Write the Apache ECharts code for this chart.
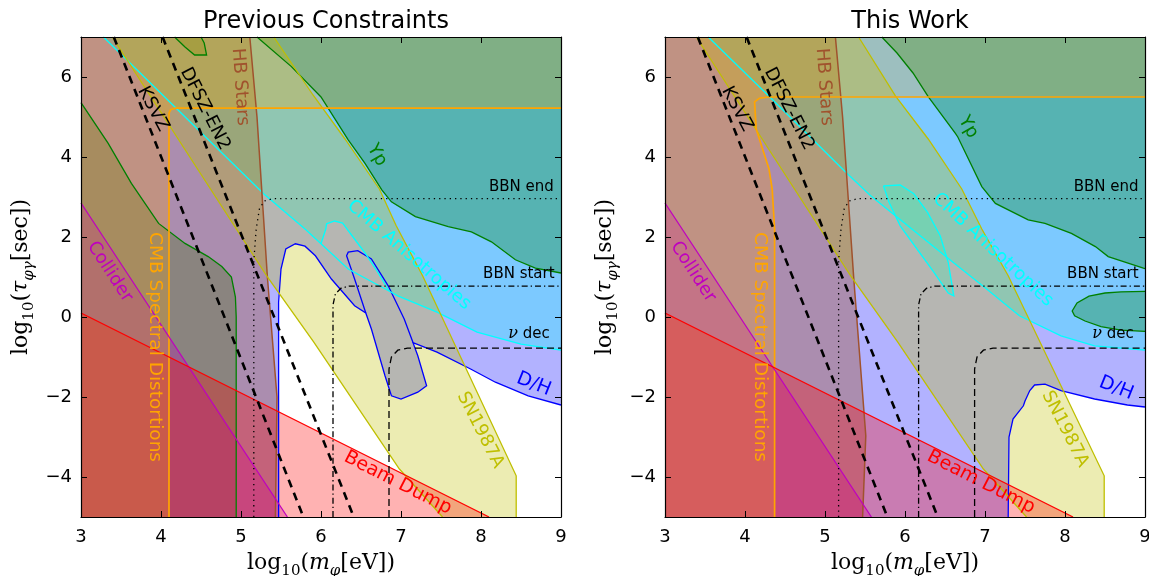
<!DOCTYPE html>
<html><head><meta charset="utf-8">
<script src="https://cdn.jsdelivr.net/npm/echarts@6/dist/echarts.min.js"></script>
<style>html,body{margin:0;padding:0;background:#fff}#c{width:1149px;height:576px}</style>
</head><body><div id="c"></div>
<script>
// ---------- tick labels / titles ----------
const xTicks = [3,4,5,6,7,8,9];
const yTicks = [-4,-2,0,2,4,6];
const panelTitles = ['Previous Constraints','This Work'];

// ---------- shared constraint boundaries (log10 m [eV], log10 tau [s]) ----------
const beamDumpLine = [[3,0.1],[8.1,-5]];
const colliderLine = [[3,2.85],[5.58,-5]];
const snLeftLine = [[3.39,7],[5.33,1.0],[5.91,-0.63],[6.98,-3.8],[7.52,-5]];
const ksvzLine = [[3.41,7],[5.78,-5]];
const dfszLine = [[4.02,7],[6.41,-5]];

// ---------- panel 1 : previous constraints ----------
const snRightLine1 = [[8.44,-5],[8.44,-3.97],[7.27,1.03],[6.94,2.28],[6.73,3.2],[6.3,4.45],[5.9,5.55],[5.41,7]];
const hbLine1 = [[5.11,7],[5.2,5],[5.33,1],[5.45,-2],[5.43,-5]];
const sdLine1 = [[4.1,-5],[4.1,5.1],[4.12,5.18],[4.18,5.22],[9,5.22]];
const cmbLine1 = [[3.28,7],[4.19,5.22],[5.29,3.07],[5.8,2.2],[6.0,1.83],[6.34,1.2],[6.85,0.65],[6.96,0.53],[7.45,0.12],[7.95,-0.38],[8.5,-0.68],[9,-0.83]];
const cmbHole1 = [[6.0,1.83],[6.06,2.2],[6.07,2.33],[6.17,2.4],[6.27,2.35],[6.4,2.0],[6.55,1.6],[6.7,1.15],[6.85,0.65]];
const dhLine1 = [[5.47,-5],[5.47,0.37],[5.5,1.2],[5.56,1.7],[5.68,1.83],[5.8,1.77],[5.93,1.53],[6.13,0.95],[6.42,0.28],[6.56,0.1],[6.63,-0.3],[6.8,-1.47],[6.88,-1.97],[7.0,-2.05],[7.21,-1.88],[7.32,-1.72],[7.21,-0.97],[7.15,-0.64],[7.45,-0.88],[7.87,-1.3],[8.18,-1.63],[8.59,-1.97],[9,-2.2]];
const dhFinger1 = [[6.56,0.1],[6.42,0.95],[6.32,1.53],[6.34,1.62],[6.46,1.66],[6.63,1.45],[6.84,0.78],[7.04,-0.05],[7.15,-0.64]];
const ypLeftLine1 = [[3,5.36],[3.34,4.34],[3.63,3.34],[3.97,2.34],[4.3,1.84],[4.59,1.51],[4.76,1.26],[4.88,1.0],[4.93,0.5],[4.94,0],[4.94,-5]];
const ypRightLine1 = [[5.2,7],[5.63,6.26],[6.0,5.5],[6.34,4.43],[6.55,3.84],[6.76,3.18],[6.88,2.88],[7.18,2.51],[7.59,2.26],[7.88,2.13],[8.13,1.88],[8.43,1.43],[8.68,1.22],[9,1.1]];
const ypBlob1 = [[4.17,7],[4.3,6.75],[4.42,6.55],[4.57,6.55],[4.54,6.85],[4.5,7]];
const bbnEnd1 = [[5.16,-5],[5.16,1.4],[5.19,2.2],[5.23,2.7],[5.29,2.9],[5.4,2.96],[9,2.96]];
const bbnStart1 = [[6.15,-5],[6.15,0.3],[6.18,0.58],[6.25,0.72],[6.35,0.77],[9,0.77]];
const nuDec1 = [[6.85,-5],[6.85,-1.3],[6.88,-1.0],[6.96,-0.83],[7.08,-0.78],[9,-0.78]];

// ---------- panel 2 : this work ----------
const snRightLine2 = [[8.49,-5],[8.49,-3.97],[7.29,1.03],[6.96,2.2],[6.71,3.2],[6.29,4.45],[5.88,5.53],[5.42,7]];
const hbLine2 = [[5.13,7],[5.22,5],[5.36,0.95],[5.51,-2.97],[5.47,-5]];
const sdLine2 = [[4.37,-5],[4.37,2.2],[4.34,3.2],[4.3,3.7],[4.14,4.7],[4.12,5.38],[4.18,5.47],[4.3,5.5],[9,5.5]];
const cmbLine2 = [[3.54,7],[4.31,5.5],[5.26,3.62],[5.57,3.03],[6.19,2.03],[6.6,1.37],[7.02,0.7],[7.43,0.03],[7.95,-0.47],[8.37,-0.72],[9,-0.83]];
const cmbIsland2 = [[5.73,3.28],[5.94,3.3],[6.11,3.08],[6.28,2.62],[6.44,2.03],[6.54,1.37],[6.61,0.53],[6.54,0.6],[6.36,1.12],[6.15,1.7],[5.94,2.28],[5.8,2.87],[5.75,3.17]];
const dhLine2 = [[7.29,-5],[7.3,-3],[7.35,-2.55],[7.48,-2.22],[7.5,-2.1],[7.56,-1.84],[7.62,-1.7],[7.75,-1.68],[7.95,-1.84],[8.37,-2.05],[8.78,-2.2],[9,-2.25]];
const ypRightLine2 = [[5.71,7],[5.9,6.6],[6.1,6.1],[6.29,5.51],[6.63,4.59],[6.66,4.5],[6.96,3.26],[7.13,2.84],[7.54,2.43],[7.75,2.34],[8.08,2.09],[8.38,1.76],[8.54,1.51],[8.98,1.22],[9,1.21]];
const ypEllipse2 = [[9,0.64],[8.7,0.63],[8.5,0.6],[8.3,0.52],[8.15,0.35],[8.09,0.15],[8.12,0.03],[8.25,-0.1],[8.45,-0.24],[8.7,-0.33],[9,-0.36]];
const bbnEnd2 = [[5.17,-5],[5.17,1.4],[5.2,2.2],[5.24,2.7],[5.3,2.9],[5.41,2.96],[9,2.96]];
const bbnStart2 = [[6.17,-5],[6.17,0.3],[6.2,0.58],[6.27,0.72],[6.37,0.77],[9,0.77]];
const nuDec2 = [[6.87,-5],[6.87,-1.3],[6.9,-1.0],[6.98,-0.83],[7.1,-0.78],[9,-0.78]];

// ---------- annotation texts ----------
const labels1 = [
  {t:'KSVZ', x:3.9, y:5.2, r:-62, c:'#000000', s:18},
  {t:'DFSZ-EN2', x:4.55, y:5.2, r:-63, c:'#000000', s:18},
  {t:'HB Stars', x:4.99, y:5.75, r:-86, c:'#a0522d', s:18},
  {t:'Collider', x:3.36, y:1.13, r:-57, c:'#bf00bf', s:18},
  {t:'CMB Spectral Distortions', x:3.92, y:-0.75, r:-90, c:'#ffa500', s:18.5},
  {t:'Yp', x:6.7, y:4.05, r:-60, c:'#008000', s:18},
  {t:'BBN end', x:8.91, y:3.24, r:0, c:'#000000', s:15, a:'right'},
  {t:'CMB Anisotropies', x:7.1, y:1.55, r:-41, c:'#00ffff', s:18},
  {t:'BBN start', x:8.92, y:1.08, r:0, c:'#000000', s:15, a:'right'},
  {t:'{i|ν} dec', x:8.86, y:-0.43, r:0, c:'#000000', s:15, a:'right'},
  {t:'D/H', x:8.66, y:-1.68, r:-22, c:'#0000ff', s:19},
  {t:'SN1987A', x:7.99, y:-2.83, r:-63, c:'#bfbf00', s:18},
  {t:'Beam Dump', x:6.96, y:-4.15, r:-27, c:'#ff0000', s:19}
];
const labels2 = [
  {t:'KSVZ', x:3.9, y:5.2, r:-62, c:'#000000', s:18},
  {t:'DFSZ-EN2', x:4.55, y:5.2, r:-63, c:'#000000', s:18},
  {t:'HB Stars', x:4.99, y:5.75, r:-86, c:'#a0522d', s:18},
  {t:'Collider', x:3.35, y:1.13, r:-57, c:'#bf00bf', s:18},
  {t:'CMB Spectral Distortions', x:4.19, y:-0.75, r:-90, c:'#ffa500', s:18.5},
  {t:'Yp', x:6.79, y:4.75, r:-60, c:'#008000', s:18},
  {t:'BBN end', x:8.92, y:3.24, r:0, c:'#000000', s:15, a:'right'},
  {t:'CMB Anisotropies', x:7.1, y:1.68, r:-43, c:'#00ffff', s:18},
  {t:'BBN start', x:8.92, y:1.08, r:0, c:'#000000', s:15, a:'right'},
  {t:'{i|ν} dec', x:8.86, y:-0.43, r:0, c:'#000000', s:15, a:'right'},
  {t:'D/H', x:8.64, y:-1.78, r:-22, c:'#0000ff', s:19},
  {t:'SN1987A', x:8.0, y:-2.8, r:-63, c:'#bfbf00', s:18},
  {t:'Beam Dump', x:6.95, y:-4.13, r:-27, c:'#ff0000', s:19}
];

// ---------- styles ----------
const FILL = {
  dh:'rgba(0,0,255,0.3)', sd:'rgba(255,165,0,0.25)', cmb:'rgba(0,255,255,0.3)', yp:'rgba(0,128,0,0.3)',
  hb:'rgba(160,82,45,0.38)', sn:'rgba(191,191,0,0.3)', col:'rgba(191,0,191,0.28)', bd:'rgba(255,0,0,0.3)'
};
const LINE = {dh:'#0000ff', sd:'#ffa500', cmb:'#00ffff', yp:'#008000', hb:'#a0522d', sn:'#bfbf00', col:'#bf00bf', bd:'#ff0000'};

const rev = a => a.slice().reverse();

function fillSeries(g, pts, color) {
  return {type:'custom', xAxisIndex:g, yAxisIndex:g, data:pts, z:2, silent:true, animation:false,
    renderItem(params, api) {
      if (params.dataIndex !== 0) return;
      return {type:'polygon', shape:{points: pts.map(p => api.coord(p))}, style:{fill:color}};
    }};
}
function lineSeries(g, pts, color, width, dash, z) {
  return {type:'custom', xAxisIndex:g, yAxisIndex:g, data:pts, z:z||3, silent:true, animation:false,
    renderItem(params, api) {
      if (params.dataIndex !== 0) return;
      return {type:'polyline', shape:{points: pts.map(p => api.coord(p))},
        style:{stroke:color, lineWidth:width, lineDash:dash||null, fill:null}};
    }};
}
function textSeries(g, labels) {
  return {type:'custom', xAxisIndex:g, yAxisIndex:g, data:labels.map(l => [l.x, l.y]), z:6, silent:true, animation:false,
    renderItem(params, api) {
      const l = labels[params.dataIndex];
      const p = api.coord([l.x, l.y]);
      return {type:'text', x:p[0], y:p[1], rotation:l.r*Math.PI/180,
        style:{text:l.t, fill:l.c, fontSize:l.s, fontFamily:'DejaVu Sans', align:l.a||'center', verticalAlign:'middle',
          rich:{i:{fontStyle:'italic', fontFamily:'DejaVu Serif', fontSize:l.s+1, fill:l.c}}}};
    }};
}

function panelSeries(g, P) {
  const s = [];
  // fills (drawing order matters for the transparent overlaps)
  s.push(fillSeries(g, [[3,7],[9,7]].concat(rev(P.dh)).concat([[3,-5]]), FILL.dh));
  s.push(fillSeries(g, P.cmbFill, FILL.cmb));
  if (P.cmbIsland) s.push(fillSeries(g, P.cmbIsland, FILL.cmb));
  P.ypFills.forEach(f => s.push(fillSeries(g, f, FILL.yp)));
  s.push(fillSeries(g, [[3,7]].concat(P.hb).concat([[3,-5]]), FILL.hb));
  s.push(fillSeries(g, snLeftLine.concat(P.snRight), FILL.sn));
  s.push(fillSeries(g, colliderLine.concat([[3,-5]]), FILL.col));
  s.push(fillSeries(g, beamDumpLine.concat([[3,-5]]), FILL.bd));
  s.push(fillSeries(g, [[3,-5]].concat(P.sd).concat([[9,7],[3,7]]), FILL.sd));
  // boundaries
  s.push(lineSeries(g, P.dh, LINE.dh, 1.3));
  if (P.dhExtra) s.push(lineSeries(g, P.dhExtra, LINE.dh, 1.3));
  s.push(lineSeries(g, P.cmb, LINE.cmb, 1.3));
  P.cmbExtra.forEach(c => s.push(lineSeries(g, c, LINE.cmb, 1.3)));
  P.ypLines.forEach(c => s.push(lineSeries(g, c, LINE.yp, 1.3)));
  s.push(lineSeries(g, P.hb, LINE.hb, 1.5));
  s.push(lineSeries(g, snLeftLine, LINE.sn, 1.3));
  s.push(lineSeries(g, P.snRight, LINE.sn, 1.3));
  s.push(lineSeries(g, P.sd, LINE.sd, 1.7));
  s.push(lineSeries(g, colliderLine, LINE.col, 1.3));
  s.push(lineSeries(g, beamDumpLine, LINE.bd, 1.3));
  // BBN epochs
  s.push(lineSeries(g, P.bbnEnd, '#000', 1.3, [1.3,4], 4));
  s.push(lineSeries(g, P.bbnStart, '#000', 1.3, [6,3,1.3,3], 4));
  s.push(lineSeries(g, P.nuDec, '#000', 1.3, [7,4], 4));
  // QCD axion benchmarks
  s.push(lineSeries(g, ksvzLine, '#000', 2.6, [8,6], 5));
  s.push(lineSeries(g, dfszLine, '#000', 2.6, [8,6], 5));
  s.push(textSeries(g, P.labels));
  return s;
}

const P1 = {
  dh: dhLine1, dhExtra: dhFinger1, sd: sdLine1, hb: hbLine1, snRight: snRightLine1,
  cmb: cmbLine1, cmbExtra: [cmbHole1],
  cmbFill: cmbLine1.slice(0, 4).concat(cmbHole1).concat(cmbLine1.slice(7)).concat([[9,7]]),
  ypFills: [ypLeftLine1.concat([[3,-5]]), ypRightLine1.concat([[9,7]]), ypBlob1],
  ypLines: [ypLeftLine1, ypRightLine1, ypBlob1],
  bbnEnd: bbnEnd1, bbnStart: bbnStart1, nuDec: nuDec1, labels: labels1
};
const P2 = {
  dh: dhLine2, sd: sdLine2, hb: hbLine2, snRight: snRightLine2,
  cmb: cmbLine2, cmbExtra: [cmbIsland2.concat([cmbIsland2[0]])], cmbIsland: cmbIsland2,
  cmbFill: cmbLine2.concat([[9,7]]),
  ypFills: [ypRightLine2.concat([[9,7]]), ypEllipse2],
  ypLines: [ypRightLine2, ypEllipse2],
  bbnEnd: bbnEnd2, bbnStart: bbnStart2, nuDec: nuDec2, labels: labels2
};

const minus = v => String(v).replace('-', '\u2212');
const serif = 'DejaVu Serif';
const richName = {
  n:{fontSize:22, fontFamily:serif, color:'#000', lineHeight:32, verticalAlign:'middle'},
  i:{fontSize:22, fontFamily:serif, fontStyle:'italic', color:'#000', lineHeight:32, verticalAlign:'middle'},
  s:{fontSize:15, fontFamily:serif, color:'#000', lineHeight:14, verticalAlign:'bottom'},
  si:{fontSize:15, fontFamily:serif, fontStyle:'italic', color:'#000', lineHeight:14, verticalAlign:'bottom'}
};

const grids = [
  {left:81, top:37, width:480, height:480, containLabel:false, outerBoundsMode:'none'},
  {left:665, top:37, width:480, height:480, containLabel:false, outerBoundsMode:'none'}
];
const axLine = {show:true, onZero:false, lineStyle:{color:'#000', width:1.2}};
const xAxes = [], yAxes = [];
[0,1].forEach(g => {
  xAxes.push({type:'value', gridIndex:g, min:3, max:9, interval:1, position:'bottom', z:20,
    axisLine:axLine, axisTick:{inside:true, length:6, lineStyle:{color:'#000'}},
    axisLabel:{color:'#000', fontSize:18, fontFamily:'DejaVu Sans', margin:11},
    splitLine:{show:false},
    name:'{n|log}{s|10}{n|(}{i|m}{si|φ}{n|[eV])}', nameLocation:'middle', nameGap:30,
    nameTextStyle:{rich:richName}});
  yAxes.push({type:'value', gridIndex:g, min:-5, max:7, position:'left', z:20,
    axisLine:axLine, axisTick:{inside:true, length:6, customValues:yTicks, lineStyle:{color:'#000'}},
    axisLabel:{color:'#000', fontSize:18, fontFamily:'DejaVu Sans', margin:9, customValues:yTicks, formatter:minus},
    splitLine:{show:false},
    name:'{n|log}{s|10}{n|(}{i|τ}{si|φγ}{n|[sec])}', nameLocation:'middle', nameGap:44, nameRotate:90,
    nameTextStyle:{rich:richName}});
});
[0,1].forEach(g => {
  xAxes.push({type:'value', gridIndex:g, min:3, max:9, interval:1, position:'top', z:20,
    axisLine:axLine, axisTick:{inside:true, length:6, lineStyle:{color:'#000'}},
    axisLabel:{show:false}, splitLine:{show:false}});
  yAxes.push({type:'value', gridIndex:g, min:-5, max:7, position:'right', z:20,
    axisLine:axLine, axisTick:{inside:true, length:6, customValues:yTicks, lineStyle:{color:'#000'}},
    axisLabel:{show:false, customValues:yTicks}, splitLine:{show:false}});
});

const chart = echarts.init(document.getElementById('c'), null, {renderer:'canvas'});
chart.setOption({
  animation:false,
  backgroundColor:'#ffffff',
  title: panelTitles.map((t, i) => ({text:t, left: grids[i].left + grids[i].width/2, top:5, textAlign:'center',
    textStyle:{fontSize:24, fontWeight:'normal', fontFamily:'DejaVu Sans', color:'#000'}})),
  grid: grids,
  xAxis: xAxes,
  yAxis: yAxes,
  series: panelSeries(0, P1).concat(panelSeries(1, P2))
});
</script></body></html>
